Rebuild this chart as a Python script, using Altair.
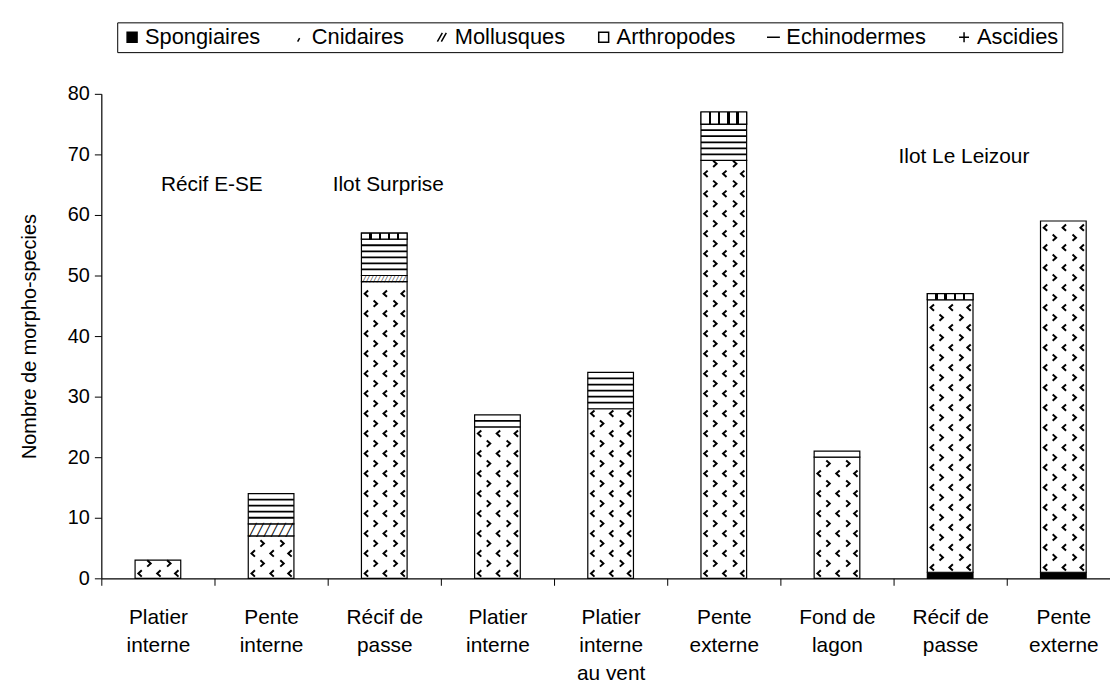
import json
import altair as alt
import pandas as pd

# ---------------- data ----------------
sites = ["Platier interne", "Pente interne", "Récif de passe", "Platier interne",
         "Platier interne au vent", "Pente externe", "Fond de lagon", "Récif de passe",
         "Pente externe"]
site_lines = [["Platier", "interne"], ["Pente", "interne"], ["Récif de", "passe"],
              ["Platier", "interne"], ["Platier", "interne", "au vent"], ["Pente", "externe"],
              ["Fond de", "lagon"], ["Récif de", "passe"], ["Pente", "externe"]]
groups = ["Spongiaires", "Cnidaires", "Mollusques", "Arthropodes", "Echinodermes", "Ascidies"]
spongiaires = [0, 0, 0, 0, 0, 0, 0, 1, 1]
cnidaires = [3, 7, 49, 25, 28, 69, 20, 45, 58]
mollusques = [0, 2, 1, 0, 0, 0, 0, 0, 0]
arthropodes = [0, 0, 0, 0, 0, 0, 0, 0, 0]
echinodermes = [0, 5, 6, 2, 6, 6, 1, 0, 0]
ascidies = [0, 0, 1, 0, 0, 2, 0, 1, 0]
annot_text = ["Récif E-SE", "Ilot Surprise", "Ilot Le Leizour"]
annot_site = [0, 2, 7]
annot_value = [65, 65, 69.5]
y_title = "Nombre de morpho-species"

# ---------------- derived tables ----------------
PLOT_W, PLOT_H, STEP, BAR = 1016, 488, 114, 46
YMAX = 80
PX = PLOT_H / YMAX
site_keys = [str(i) for i in range(len(sites))]

series = [spongiaires, cnidaires, mollusques, arthropodes, echinodermes, ascidies]
rows = []
for i in range(len(sites)):
    base = 0
    for g, vals in zip(groups, series):
        v = vals[i]
        if v > 0:
            rows.append({"site": site_keys[i], "group": g, "y0": base, "y1": base + v})
        base += v
seg = pd.DataFrame(rows)

# chevron texture for Cnidaires
chev = []
for r in rows:
    if r["group"] != "Cnidaires":
        continue
    k = 0
    lev = r["y0"] + 0.8
    while lev < r["y1"] - 0.5:
        chev.append({"site": r["site"], "lev": lev, "par": k % 2})
        k += 1
        lev += 1.65
chev = pd.DataFrame(chev)

# horizontal-line texture for Echinodermes
lines = []
for r in rows:
    if r["group"] != "Echinodermes":
        continue
    for lev in range(int(r["y0"]) + 1, int(r["y1"])):
        lines.append({"site": r["site"], "lev": lev})
lines = pd.DataFrame(lines)

# diagonal hatch for Mollusques
hatch = []
for r in rows:
    if r["group"] != "Mollusques":
        continue
    fs = (r["y1"] - r["y0"]) * PX
    n = max(1, int(BAR / (0.6 * fs)))
    hatch.append({"site": r["site"], "mid": (r["y0"] + r["y1"]) / 2, "fs": fs, "t": "╱" * n})
hatch = pd.DataFrame(hatch)

annot = pd.DataFrame({"site": [site_keys[i] for i in annot_site],
                      "val": annot_value, "txt": annot_text})

FONT = "Liberation Sans"
label_expr = json.dumps(site_lines, ensure_ascii=False) + "[toNumber(datum.value)]"

xenc = alt.X("site:N", scale=alt.Scale(domain=site_keys, range=[0, STEP * len(sites)],
                                       paddingInner=0, paddingOuter=0),
             axis=alt.Axis(title=None, labelExpr=label_expr, labelAngle=0,
                           tickBand="extent", tickSize=7, labelPadding=22,
                           labelFontSize=21, labelLineHeight=28))
yscale = alt.Scale(domain=[0, YMAX], nice=False)

bars = alt.Chart(seg).mark_bar(size=BAR, stroke="black", strokeWidth=1.2).encode(
    x=xenc,
    y=alt.Y("y0:Q", scale=yscale,
            axis=alt.Axis(title=y_title, values=list(range(0, 81, 10)), tickSize=7,
                          labelPadding=5, labelFontSize=20, titleFontSize=20,
                          titleFontWeight="normal", titlePadding=28, grid=False)),
    y2="y1:Q",
    fill=alt.condition(alt.datum.group == "Spongiaires", alt.value("black"), alt.value("white")),
)

def stripes(n, w):
    stops = [alt.GradientStop(offset=0, color="white")]
    for k in range(1, n):
        c = k / n
        stops += [alt.GradientStop(offset=c - w, color="white"),
                  alt.GradientStop(offset=c - w, color="black"),
                  alt.GradientStop(offset=c + w, color="black"),
                  alt.GradientStop(offset=c + w, color="white")]
    stops.append(alt.GradientStop(offset=1, color="white"))
    return alt.Gradient(gradient="linear", stops=stops, x1=0, x2=1, y1=0, y2=0)

asc = alt.Chart(seg).transform_filter(alt.datum.group == "Ascidies").mark_bar(
    size=BAR, stroke="black", strokeWidth=1.2, fill=stripes(5, 0.025)
).encode(x="site:N", y="y0:Q", y2="y1:Q")

echi = alt.Chart(lines).mark_tick(orient="horizontal", size=BAR, thickness=1.8,
                                  color="black", opacity=1).encode(x="site:N", y="lev:Q")

moll = alt.Chart(hatch).mark_text(font="DejaVu Sans Mono", baseline="middle",
                                  align="center", color="black").encode(
    x="site:N", y="mid:Q", text="t:N", size=alt.Size("fs:Q", scale=None, legend=None))

LT = "M0.55,-1L-0.55,0L0.55,1"
GT = "M-0.55,-1L0.55,0L-0.55,1"
chev_layers = []
for par, shp, offs in [(0, LT, (-18, 1, 19)), (1, GT, (-9, 11))]:
    for off in offs:
        chev_layers.append(
            alt.Chart(chev).transform_filter(alt.datum.par == par).mark_point(
                shape=shp, filled=False, size=40, strokeWidth=2, color="black",
                opacity=1, xOffset=off).encode(x="site:N", y="lev:Q"))

shape_paths = ["square", "M0.15,0.2L-0.25,0.9", "M-0.9,0.9L0.1,-0.9M-0.1,0.9L0.9,-0.9",
               "square", "M-1.3,0L1.3,0", "M-1,0L1,0M0,-1L0,1"]

def leg():
    return alt.Legend(title=None, orient="none", legendX=16, legendY=-72,
                      direction="horizontal", columns=6, strokeColor="black",
                      padding=4, labelFontSize=22, labelFont=FONT,
                      symbolSize=100, symbolStrokeWidth=1.5, symbolOpacity=1,
                      columnPadding=27, labelOffset=2)

legend_pts = alt.Chart(seg).mark_point(filled=False, opacity=0, strokeWidth=1.5).encode(
    x="site:N", y="y0:Q",
    color=alt.Color("group:N", scale=alt.Scale(domain=groups, range=["black"] * 6), legend=leg()),
    fill=alt.Fill("group:N", scale=alt.Scale(domain=groups,
                                             range=["black", "white", "white", "white", "white", "white"]),
                  legend=leg()),
    shape=alt.Shape("group:N", scale=alt.Scale(domain=groups, range=shape_paths), legend=leg()),
)

ann1 = alt.Chart(annot.iloc[[0]]).mark_text(font=FONT, fontSize=21, align="left", dx=3,
                                             baseline="middle", color="black").encode(
    x="site:N", y="val:Q", text="txt:N")
ann2 = alt.Chart(annot.iloc[1:]).mark_text(font=FONT, fontSize=21, align="left", dx=-52,
                                            baseline="middle", color="black").encode(
    x="site:N", y="val:Q", text="txt:N")

chart = alt.layer(bars, asc, echi, moll, *chev_layers, legend_pts, ann1, ann2).properties(
    width=PLOT_W, height=PLOT_H,
    autosize=alt.AutoSizeParams(type="none"),
    padding={"left": 94, "top": 84, "right": 0, "bottom": 106},
).configure_view(stroke=None).configure_axis(
    labelFont=FONT, titleFont=FONT, labelColor="black", titleColor="black",
    domainColor="black", tickColor="black", domainWidth=1.2,
).configure_legend(labelColor="black")

chart.save("out.html", embed_options={"renderer": "svg", "actions": False})
